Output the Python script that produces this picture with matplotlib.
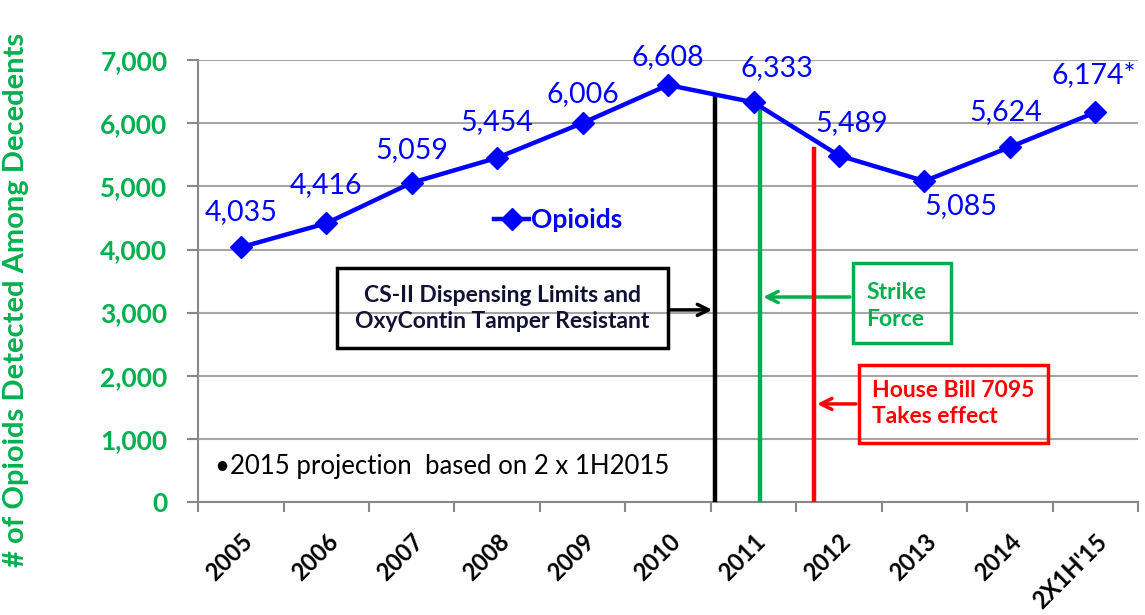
import matplotlib.pyplot as plt
from matplotlib.patches import Rectangle

years = ['2005', '2006', '2007', '2008', '2009', '2010', '2011', '2012', '2013', '2014', "2X1H'15"]
opioids = [4035, 4416, 5059, 5454, 6006, 6608, 6333, 5489, 5085, 5624, 6174]
value_labels = ['4,035', '4,416', '5,059', '5,454', '6,006', '6,608', '6,333', '5,489', '5,085', '5,624', '6,174*']
# label offsets in pixels (dx, dy)
label_offsets = [(0, 35), (0, 38), (0, 33), (0, 36), (0, 29), (0, 28), (23, 34), (13, 33), (36, -25), (-4, 35), (-2, 37)]

# policy events: (x position between categories, top of line, colour)
events = [
    (5.55, 6410, 'black'),
    (6.08, 6200, '#00B050'),
    (6.71, 5600, '#FF0000'),
]

blue = '#0000FF'
green = '#00B050'
red = '#FF0000'

plt.rcParams['font.family'] = ['Lato', 'DejaVu Sans']

fig = plt.figure(figsize=(11.45, 6.15), dpi=100)
ax = fig.add_axes([0.173, 0.184, 0.821, 0.718])

x = list(range(len(years)))
ax.plot(x, opioids, color=blue, lw=3.2, marker='D', markersize=11,
        label='Opioids', zorder=5)

for i, (v, s) in enumerate(zip(opioids, value_labels)):
    dx, dy = label_offsets[i]
    ax.annotate(s, (i, v), xytext=(dx, dy), textcoords='offset pixels',
                ha='center', va='center', color=blue, fontsize=20.5)

for ex, top, c in events:
    ax.plot([ex, ex], [30, top], color=c, lw=3.2, zorder=4)

# annotation boxes
ax.add_patch(Rectangle((1.12, 2440), 3.875, 1265, fill=False, ec='black', lw=2.5, zorder=6))
ax.text(3.06, 3072, 'CS-II Dispensing Limits and\nOxyContin Tamper Resistant',
        ha='center', va='center', fontsize=16.5, fontweight='bold', color='#111133',
        linespacing=1.3, zorder=6)
ax.annotate('', xy=(5.55, 3043), xytext=(4.995, 3043),
            arrowprops=dict(arrowstyle='->', color='black', lw=2.5, mutation_scale=20))

ax.add_patch(Rectangle((7.16, 2518), 1.15, 1267, fill=False, ec=green, lw=2.5, zorder=6))
ax.text(7.32, 3104, 'Strike\nForce', ha='left', va='center', fontsize=16.5,
        fontweight='bold', color=green, linespacing=1.3, zorder=6)
ax.annotate('', xy=(6.08, 3247), xytext=(7.16, 3247),
            arrowprops=dict(arrowstyle='->', color=green, lw=2.5, mutation_scale=20))

ax.add_patch(Rectangle((7.23, 934), 2.22, 1236, fill=False, ec=red, lw=2.5, zorder=6))
ax.text(7.39, 1552, 'House Bill 7095\nTakes effect', ha='left', va='center', fontsize=16.5,
        fontweight='bold', color=red, linespacing=1.3, zorder=6)
ax.annotate('', xy=(6.71, 1552), xytext=(7.23, 1552),
            arrowprops=dict(arrowstyle='->', color=red, lw=2.5, mutation_scale=20))

ax.text(0.018, 0.08, '\u20222015 projection  based on 2 x 1H2015', transform=ax.transAxes,
        fontsize=18.5, color='black', ha='left', va='center')

ax.legend(loc='center left', bbox_to_anchor=(0.29, 0.638), frameon=False,
          handlelength=1.3, handletextpad=0.1,
          prop={'size': 19, 'weight': 'bold'}, labelcolor=blue)

# axes styling
ax.set_xlim(-0.5, len(years) - 0.5)
ax.set_ylim(0, 7000)
ax.set_yticks(range(0, 7001, 1000))
ax.set_yticklabels(['{:,}'.format(v) for v in range(0, 7001, 1000)],
                   color=green, fontsize=19, fontweight='bold')
ax.set_xticks(x)
ax.set_xticklabels(years, rotation=45, ha='right', rotation_mode='anchor',
                   fontsize=17, fontweight='bold')
ax.tick_params(axis='x', which='major', length=0, pad=20)
ax.set_xticks([i - 0.5 for i in range(len(years) + 1)], minor=True)
ax.tick_params(axis='x', which='minor', length=7, width=1.5, color='#888888')
ax.tick_params(axis='y', length=8, width=1.5, color='#888888', pad=14)

ax.grid(axis='y', color='#A6A6A6', lw=1.5)
ax.set_axisbelow(True)
for side in ['top', 'right']:
    ax.spines[side].set_visible(False)
for side in ['left', 'bottom']:
    ax.spines[side].set_color('#888888')
    ax.spines[side].set_linewidth(1.5)

ax.set_ylabel('# of Opioids Detected Among Decedents', color=green, fontsize=21,
              fontweight='bold')
ax.yaxis.set_label_coords(-0.18, 0.457)

fig.savefig('out.png', dpi=100)
